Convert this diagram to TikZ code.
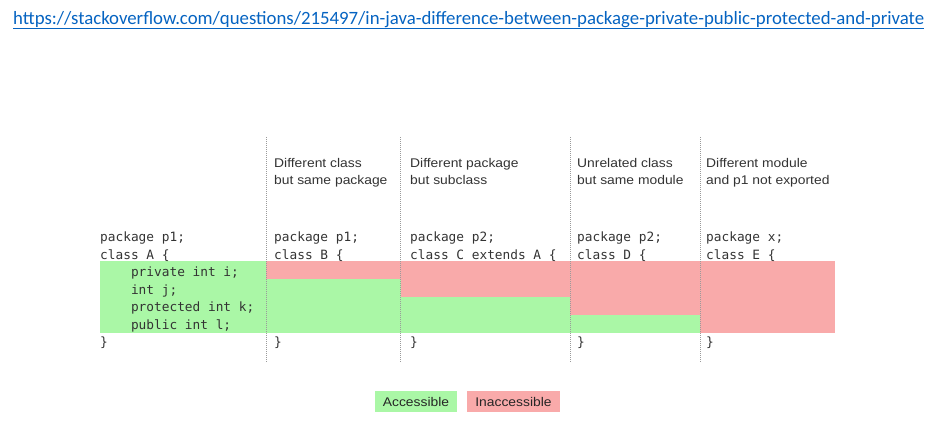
\documentclass[tikz,border=0pt]{standalone}
\usepackage{fontspec}
\setmainfont[FakeStretch=1.1]{Liberation Sans}
\setmonofont{DejaVu Sans Mono}
\newfontfamily\urlfont{Carlito}
\definecolor{okgreen}{HTML}{AAF7A6}
\definecolor{nopink}{HTML}{F9AAAA}
\definecolor{txtgray}{HTML}{333333}
\definecolor{linkblue}{HTML}{0563C1}
\definecolor{sepgray}{HTML}{9A9A9A}
\tikzset{
  hdr/.style={anchor=base west, inner sep=0pt, text=txtgray, font=\fontsize{12.6}{17}\selectfont, align=left},
  code/.style={anchor=base west, inner sep=0pt, text=txtgray, font=\fontsize{12.8}{17.5}\ttfamily},
  sep/.style={draw=sepgray, line width=0.8pt, dash pattern=on 1pt off 1pt},
  legend/.style={inner sep=0pt, minimum height=21pt, text=black!85, font=\fontsize{12.6}{15}\selectfont},
}
\begin{document}
\begin{tikzpicture}[x=1pt,y=-1pt]
\useasboundingbox (0,0) rectangle (933,445);
% URL
\node[anchor=base west, inner sep=0pt, text=linkblue] (url) at (13,24.3)
  {\resizebox{911pt}{!}{\urlfont\fontsize{17}{20}\selectfont https://stackoverflow.com/questions/215497/in-java-difference-between-package-private-public-protected-and-private}};
\coordinate (ul1) at (13,28);
\coordinate (ul2) at (924,28);
\draw[linkblue, line width=1pt] (ul1) -- (ul2);
% fills
\fill[okgreen] (100,261) rectangle (266,333);
\fill[nopink] (266,261) rectangle (400.5,279);
\fill[okgreen] (266,279) rectangle (400.5,333);
\fill[nopink] (400.5,261) rectangle (570,297);
\fill[okgreen] (400.5,297) rectangle (570,333);
\fill[nopink] (570,261) rectangle (700,315);
\fill[okgreen] (570,315) rectangle (700,333);
\fill[nopink] (700,261) rectangle (835,333);
% separators
\foreach \x/\n in {266/s1, 400.5/s2, 570/s3, 700/s4} {
  \coordinate (\n top) at (\x,137);
  \coordinate (\n bot) at (\x,363);
  \draw[sep] (\n top) -- (\n bot);
}
% headers
\node[hdr] (hB) at (274,184) {Different class\\but same package};
\node[hdr] (hC) at (410,184) {Different package\\but subclass};
\node[hdr] (hD) at (577,184) {Unrelated class\\but same module};
\node[hdr] (hE) at (706,184) {Different module\\and p1 not exported};
% code A
\node[code] (a1) at (100,241.7) {package p1;};
\node[code] (a2) at (100,259.2) {class A \{};
\node[code] (a3) at (100,276.7) {\ \ \ \ private int i;};
\node[code] (a4) at (100,294.2) {\ \ \ \ int j;};
\node[code] (a5) at (100,311.7) {\ \ \ \ protected int k;};
\node[code] (a6) at (100,329.2) {\ \ \ \ public int l;};
\node[code] (a7) at (100,346.7) {\}};
% code B
\node[code] (b1) at (274,241.7) {package p1;};
\node[code] (b2) at (274,259.2) {class B \{};
\node[code] (b3) at (274,346.7) {\}};
% code C
\node[code] (c1) at (410,241.7) {package p2;};
\node[code] (c2) at (410,259.2) {class C extends A \{};
\node[code] (c3) at (410,346.7) {\}};
% code D
\node[code] (d1) at (577,241.7) {package p2;};
\node[code] (d2) at (577,259.2) {class D \{};
\node[code] (d3) at (577,346.7) {\}};
% code E
\node[code] (e1) at (706,241.7) {package x;};
\node[code] (e2) at (706,259.2) {class E \{};
\node[code] (e3) at (706,346.7) {\}};
% legend
\node[legend, fill=okgreen, minimum width=82pt] (lg1) at (416,401.5) {Accessible};
\node[legend, fill=nopink, minimum width=93pt] (lg2) at (513.5,401.5) {Inaccessible};
\end{tikzpicture}
\end{document}
